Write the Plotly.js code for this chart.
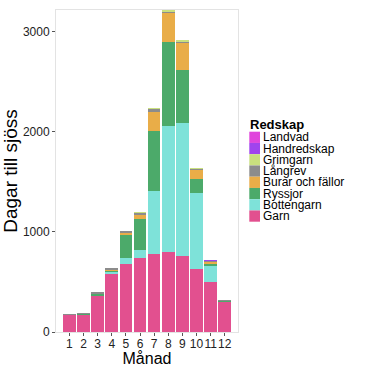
<!DOCTYPE html>
<html>
<head>
<meta charset="utf-8">
<script src="https://cdn.plot.ly/plotly-3.0.1.min.js"></script>
<style>html,body{margin:0;padding:0;background:#fff;}#chart{width:367px;height:367px;}</style>
</head>
<body>
<div id="chart"></div>
<script>
// Data
const months = [1,2,3,4,5,6,7,8,9,10,11,12];
const monthLabels = ["1","2","3","4","5","6","7","8","9","10","11","12"];
const garn        = [165, 170, 358, 578, 676, 742, 780, 802, 755, 632, 500, 300];
const bottengarn  = [0,   0,   5,   22,  66,  73,  625, 1256,1331,755, 160, 0];
const ryssjor     = [5,   5,   12,  10,  223, 316, 600, 838, 526, 143, 15,  8];
const burar       = [0,   0,   0,   5,   25,  40,  195, 284, 272, 83,  25,  0];
const langrev     = [10,  12,  20,  25,  20,  20,  22,  12,  15,  18,  12,  12];
const grimgarn    = [3,   3,   0,   0,   3,   5,   12,  20,  12,  4,   0,   3];
const handredskap = [0,   0,   0,   0,   0,   0,   0,   0,   0,   0,   10,  0];
const landvad     = [0,   0,   0,   0,   0,   0,   2,   2,   2,   0,   0,   0];

// Stack order bottom -> top
const seriesNames  = ["Garn","Bottengarn","Ryssjor","Burar och fällor","Långrev","Grimgarn","Handredskap","Landvad"];
const seriesValues = [garn, bottengarn, ryssjor, burar, langrev, grimgarn, handredskap, landvad];
const seriesColors = ["#E2508F","#7EE2D9","#4CAA6A","#E9AD48","#8C8C8C","#C9E07E","#A044EE","#E045DC"];

const traces = seriesNames.map((name, i) => ({
  type: 'bar',
  name: name,
  x: months,
  y: seriesValues[i],
  marker: {color: seriesColors[i], line: {width: 0}},
  showlegend: false,
  hoverinfo: 'x+y+name'
}));

// Manual legend (ggplot-style, keys stacked without gaps), top entry = top of stack
const L = 56, R = 238, T = 10, B = 332;
const px2x = p => (p - L) / (R - L);
const py2y = p => (B - p) / (B - T);
const legendOrder = seriesNames.slice().reverse();
const legendColors = seriesColors.slice().reverse();
const keyTop = 131.7, keyH = 11.25;
const legendFont = {family: 'Liberation Sans, Arial, sans-serif', size: 12, color: '#000'};
const shapes = [];
const annotations = [{
  text: '<b>Redskap</b>', xref: 'paper', yref: 'paper',
  x: px2x(247.5), y: py2y(125), xanchor: 'left', yanchor: 'middle',
  showarrow: false, font: {family: 'Liberation Sans, Arial, sans-serif', size: 13, color: '#000'}
}];
legendOrder.forEach((name, i) => {
  const y0 = keyTop + keyH * i;
  shapes.push({
    type: 'rect', xref: 'paper', yref: 'paper',
    x0: px2x(249.3), x1: px2x(260), y0: py2y(y0 + keyH), y1: py2y(y0),
    fillcolor: legendColors[i], line: {width: 0}
  });
  annotations.push({
    text: name, xref: 'paper', yref: 'paper',
    x: px2x(261), y: py2y(y0 + keyH / 2), xanchor: 'left', yanchor: 'middle',
    showarrow: false, font: legendFont
  });
});

const layout = {
  width: 367, height: 367,
  margin: {l: L, r: 367 - R, t: T, b: 367 - B, pad: 0},
  paper_bgcolor: '#fff', plot_bgcolor: '#fff',
  barmode: 'stack', bargap: 0.1,
  font: {family: 'Liberation Sans, Arial, sans-serif', color: '#222'},
  xaxis: {
    range: [0.05, 12.94], tickvals: months, ticktext: monthLabels,
    tickangle: 0,
    showgrid: false, zeroline: false,
    showline: true, mirror: true, linecolor: '#E3E3E3', linewidth: 1,
    ticks: 'outside', ticklen: 3, tickcolor: '#555', tickwidth: 1,
    ticklabelstandoff: -2,
    tickfont: {size: 12, color: '#222'},
    title: {text: 'Månad', font: {size: 16, color: '#000'}, standoff: 3},
    automargin: false, fixedrange: true
  },
  yaxis: {
    range: [0, 3214], tickvals: [0, 1000, 2000, 3000],
    showgrid: false, zeroline: false,
    showline: true, mirror: true, linecolor: '#E3E3E3', linewidth: 1,
    ticks: 'outside', ticklen: 3, tickcolor: '#555', tickwidth: 1,
    tickfont: {size: 12, color: '#222'},
    title: {text: 'Dagar till sjöss', font: {size: 19, color: '#000'}, standoff: 0},
    automargin: false, fixedrange: true
  },
  shapes: shapes,
  annotations: annotations,
  showlegend: false
};

Plotly.newPlot('chart', traces, layout, {displayModeBar: false, staticPlot: true});
</script>
</body>
</html>
